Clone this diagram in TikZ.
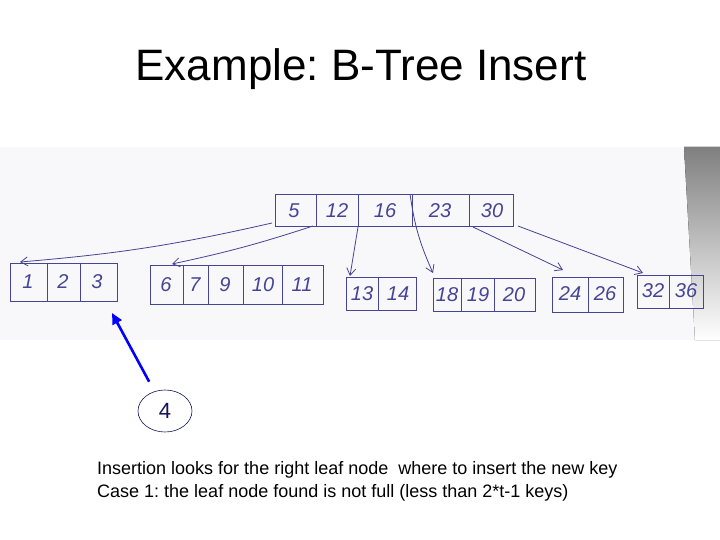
\documentclass[tikz,border=0pt]{standalone}
\usepackage{fontspec}
\setmainfont{Liberation Sans}
\usetikzlibrary{arrows.meta,shapes.geometric}
\frenchspacing

\definecolor{ink}{RGB}{70,68,148}
\definecolor{paper}{RGB}{248,247,250}
\definecolor{shade}{RGB}{240,240,242}
\definecolor{navyline}{RGB}{20,20,90}

\tikzset{
  box/.style={draw=ink, line width=1pt, inner sep=0pt, anchor=north west},
  key/.style={text=ink, font=\itshape\fontsize{20}{20}\selectfont},
  ptr/.style={draw=ink, line width=0.8pt, -{Straight Barb[length=7pt,width=9pt]}},
}

\begin{document}
\begin{tikzpicture}[x=1pt,y=-1pt]

\useasboundingbox (0,0) rectangle (720,540);
\fill[white] (0,0) rectangle (720,540);

% photo of the sheet
\fill[paper] (0,147) rectangle (720,340);
\fill[shade] (684,147) -- (720,147) -- (720,340) -- (695,340) -- cycle;

\node (title) at (361,69) {\fontsize{44}{50}\selectfont Example: B-Tree Insert};

% root
\node[box, minimum width=238pt, minimum height=32pt] (root) at (275,194) {};
\foreach \x in {316,358,412,469}
    \draw[ink, line width=1pt] (\x,194) -- (\x,226);
\foreach \x/\k in {294/5,337/12,385/16,440/23,492/30}
    \node[key] (k\k) at (\x,211) {\k};

% leaves
\node[box, minimum width=107pt, minimum height=38pt] (leafa) at (10,263) {};
\foreach \x in {47,80}
    \draw[ink, line width=1pt] (\x,263) -- (\x,301);
\foreach \x/\k in {28/1,63/2,97/3}
    \node[key] (k\k) at (\x,282) {\k};

\node[box, minimum width=173pt, minimum height=39pt] (leafb) at (150,265) {};
\foreach \x in {183,208,243,282}
    \draw[ink, line width=1pt] (\x,265) -- (\x,304);
\foreach \x/\k in {166/6,195/7,225/9,263/10,302/11}
    \node[key] (k\k) at (\x,285) {\k};

\node[box, minimum width=70pt, minimum height=33pt] (leafc) at (346,277) {};
\draw[ink, line width=1pt] (378,277) -- (378,310);
\foreach \x/\k in {362/13,398/14}
    \node[key] (k\k) at (\x,294) {\k};

\node[box, minimum width=102pt, minimum height=33pt] (leafd) at (433,278) {};
\foreach \x in {461,494}
    \draw[ink, line width=1pt] (\x,278) -- (\x,311);
\foreach \x/\k in {447/18,478/19,514/20}
    \node[key] (k\k) at (\x,295) {\k};

\node[box, minimum width=71pt, minimum height=35pt] (leafe) at (552,277) {};
\draw[ink, line width=1pt] (588,277) -- (588,312);
\foreach \x/\k in {570/24,605/26}
    \node[key] (k\k) at (\x,294) {\k};

\node[box, minimum width=66pt, minimum height=33pt] (leaff) at (637,275) {};
\draw[ink, line width=1pt] (669,275) -- (669,308);
\foreach \x/\k in {653/32,686/36}
    \node[key] (k\k) at (\x,291) {\k};

% child pointers
\draw[ptr] ([xshift=-3pt,yshift=4pt]root.south west) to[bend left=4] ([xshift=10pt,yshift=1pt]leafa.north west);
\draw[ptr] ([xshift=38pt,yshift=1pt]root.south west) to[bend left=3] ([xshift=22pt,yshift=1pt]leafb.north west);
\draw[ptr] ([xshift=83pt]root.south west) -- ([xshift=4pt,yshift=1pt]leafc.north west);
\draw[ptr] ([xshift=135pt]root.north west) to[bend right=8] ([yshift=5pt]leafd.north west);
\draw[ptr] ([xshift=-41pt]root.south east) -- ([xshift=11pt,yshift=7pt]leafe.north west);
\draw[ptr] ([xshift=4pt,yshift=1pt]root.south east) -- ([xshift=6pt,yshift=2pt]leaff.north west);

% key to insert
\node[ellipse, draw=navyline, line width=0.6pt, minimum width=54pt, minimum height=42pt, inner sep=0pt,
      font=\fontsize{22}{22}\selectfont, text=navyline] (new) at (165,411) {4};
\coordinate (tip) at (112,313);
\draw[blue, line width=2.6pt, -{Triangle[length=11pt,width=10pt]}, shorten <=11pt] (new) -- (tip);

\node[anchor=base west, inner sep=0pt, font=\fontsize{18}{21}\selectfont] (line1) at (97,474)
    {Insertion looks for the right leaf node\ \ where to insert the new key};
\node[anchor=base west, inner sep=0pt, font=\fontsize{18}{21}\selectfont] (line2) at (97,497)
    {Case 1: the leaf node found is not full (less than 2*t-1 keys)};

\end{tikzpicture}
\end{document}
